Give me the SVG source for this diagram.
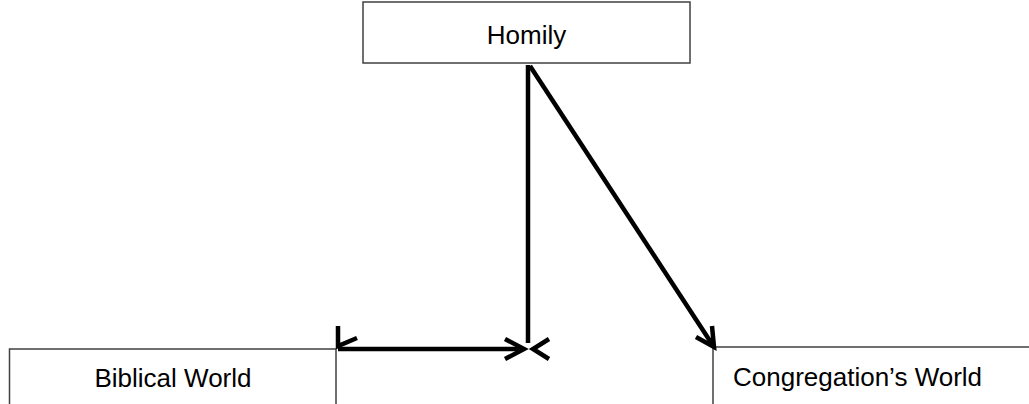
<svg xmlns="http://www.w3.org/2000/svg" width="1029" height="404" viewBox="0 0 1029 404">
<style>
.box{fill:#fff;stroke:#404040;stroke-width:1.5}
.lbl{font-family:"Liberation Sans",Arial,sans-serif;font-size:26px;fill:#000}
.con{fill:none;stroke:#000;stroke-width:4.5;stroke-linejoin:miter}
</style>
<rect width="1029" height="404" fill="#fff"/>
<g id="homily">
<rect class="box" x="363" y="2" width="327" height="61"/>
<text class="lbl" x="526.5" y="44" text-anchor="middle">Homily</text>
</g>
<g id="biblical-world">
<rect class="box" x="9.5" y="349" width="326.5" height="70"/>
<text class="lbl" x="173" y="387" text-anchor="middle">Biblical World</text>
</g>
<g id="congregations-world">
<rect class="box" x="713" y="347" width="330" height="70"/>
<text class="lbl" x="733" y="386">Congregation’s World</text>
</g>
<g id="connectors">
<line class="con" x1="528" y1="65" x2="528" y2="343"/>
<line class="con" x1="338" y1="349" x2="522" y2="349"/>
<polyline class="con" points="338,326 338,346 357,338"/>
<polyline class="con" points="505,339 524,349 505,359"/>
<polyline class="con" points="549,339 533,349 549,359"/>
<line class="con" x1="530" y1="66" x2="712" y2="344"/>
<polyline class="con" points="712,326 714,347 696,337"/>
</g>
</svg>
